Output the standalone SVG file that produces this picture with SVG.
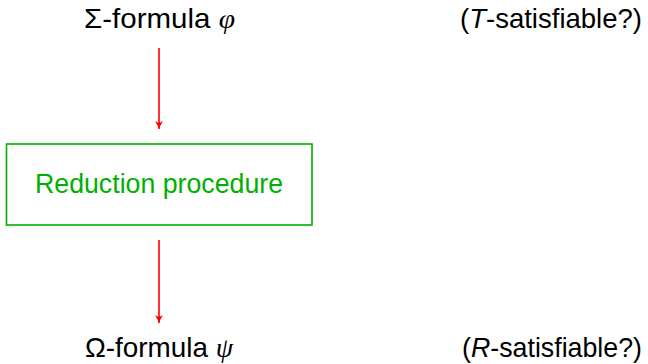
<svg xmlns="http://www.w3.org/2000/svg" width="648" height="364" viewBox="0 0 648 364">
<style>
.t{font-family:"Liberation Sans","DejaVu Sans",sans-serif;font-size:27.5px;fill:#000}
.m{font-family:"Liberation Serif","DejaVu Serif",serif;font-style:italic}
.i{font-style:italic}
.g{fill:#00b000}
.c{stroke:#ff0000;stroke-width:1.6;fill:none}
</style>
<defs>
<marker id="ah" markerWidth="10" markerHeight="10" refX="8" refY="5" orient="auto" markerUnits="userSpaceOnUse">
<path d="M0,1 Q5,4 8,5 Q5,6 0,9 Q3,5 0,1 Z" fill="#ff0000"/>
</marker>
</defs>
<rect width="648" height="364" fill="#fff"/>
<g id="phi"><text class="t" x="84" y="28" textLength="151" lengthAdjust="spacingAndGlyphs">Σ-formula <tspan class="m">φ</tspan></text></g>
<g id="tsat"><text class="t" x="460" y="28" textLength="182" lengthAdjust="spacingAndGlyphs">(<tspan class="i">T</tspan>-satisfiable?)</text></g>
<g id="reduction">
<rect x="6.5" y="144" width="305.5" height="81" fill="none" stroke="#00b000" stroke-width="1.6"/>
<text class="t g" x="35" y="193" textLength="248" lengthAdjust="spacingAndGlyphs">Reduction procedure</text>
</g>
<g id="psi"><text class="t" x="85" y="357" textLength="148" lengthAdjust="spacingAndGlyphs">Ω-formula <tspan class="m">ψ</tspan></text></g>
<g id="rsat"><text class="t" x="462" y="357" textLength="180" lengthAdjust="spacingAndGlyphs">(<tspan class="i">R</tspan>-satisfiable?)</text></g>
<g id="connectors">
<line class="c" x1="159" y1="48" x2="159" y2="129" marker-end="url(#ah)"/>
<line class="c" x1="159" y1="240" x2="159" y2="323" marker-end="url(#ah)"/>
</g>
</svg>
